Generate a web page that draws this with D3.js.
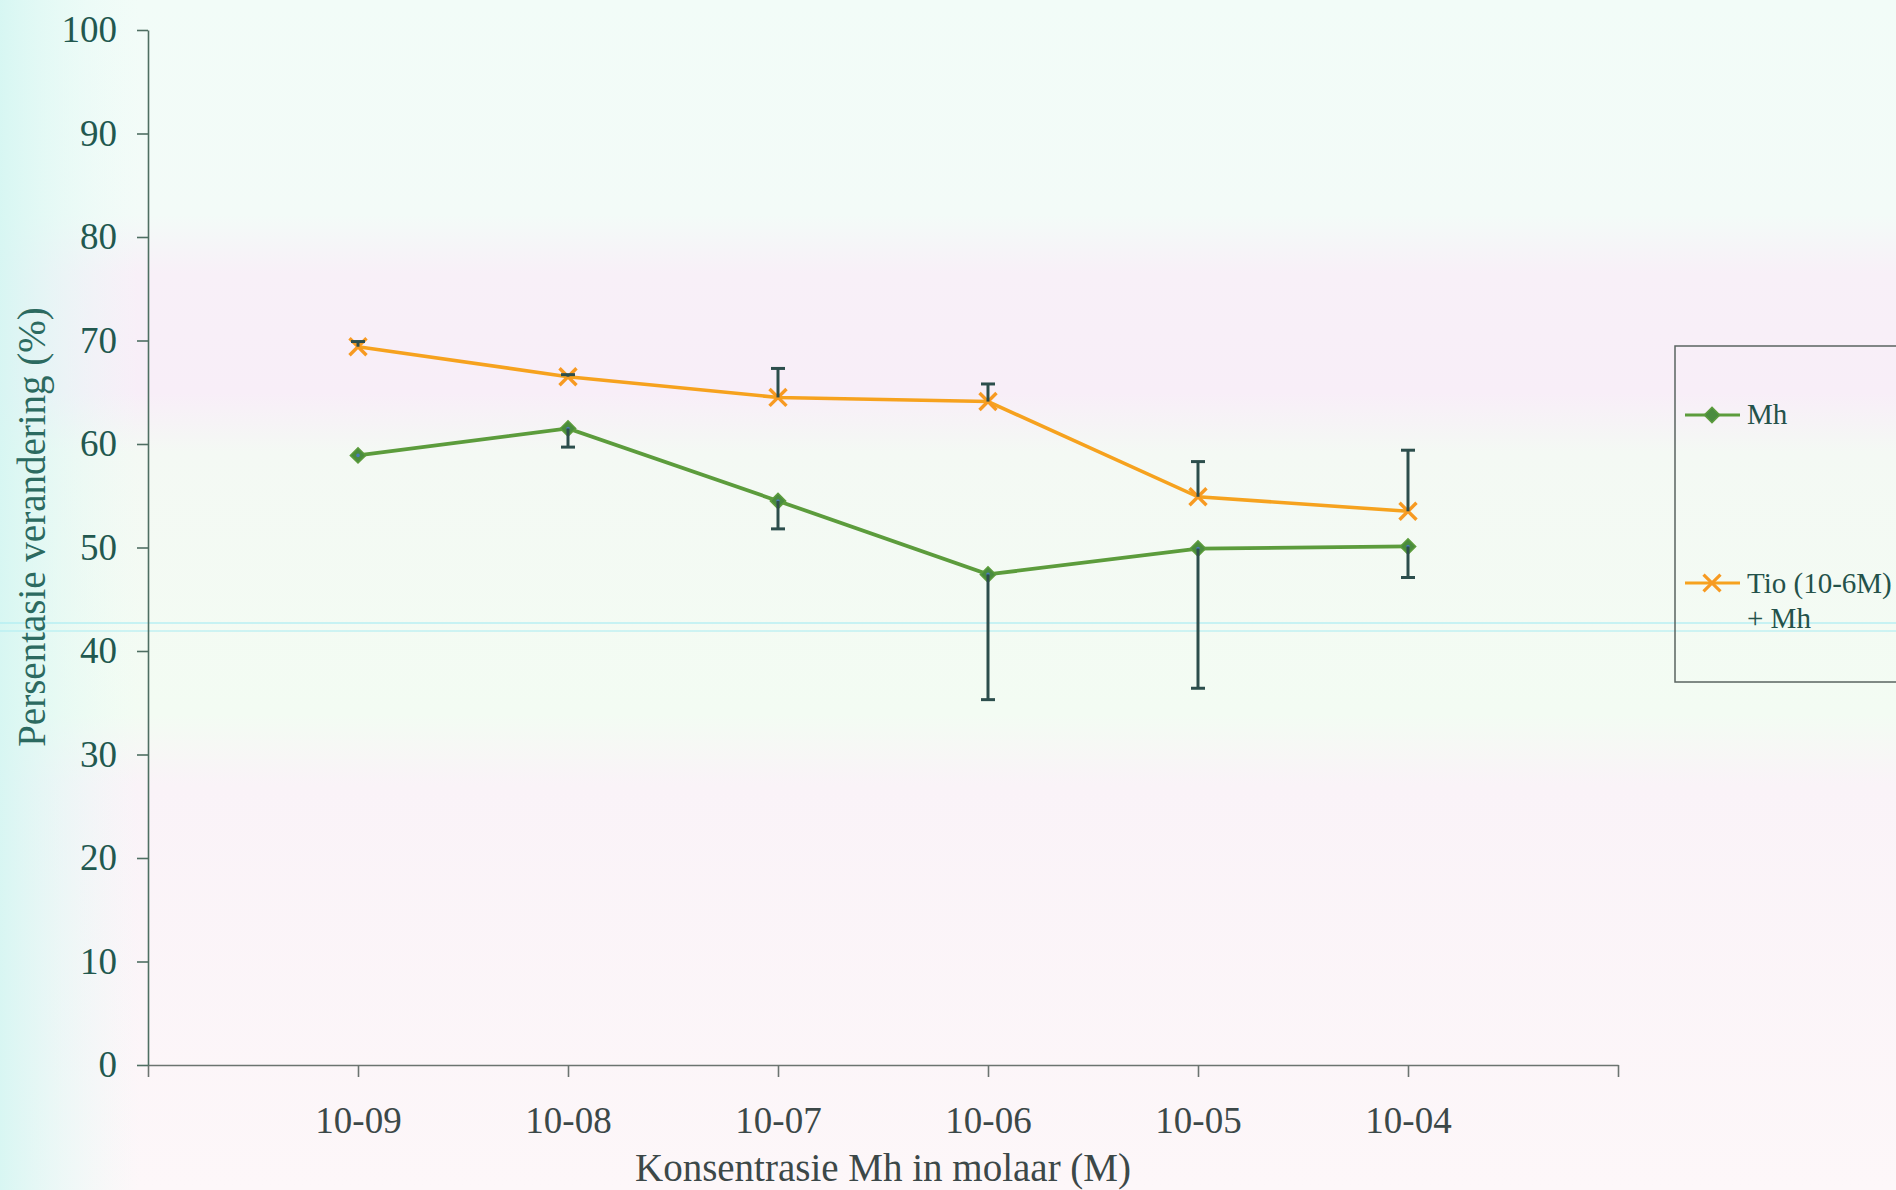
<!DOCTYPE html>
<html>
<head>
<meta charset="utf-8">
<script src="https://cdn.jsdelivr.net/npm/d3@7"></script>
<style>
  body { margin: 0; background: #f4fbf6; }
  svg { display: block; }
  text { font-family: "Liberation Serif", "Times New Roman", serif; }
</style>
</head>
<body>
<div id="chart"></div>
<script>
// data
var categories = ["10-09", "10-08", "10-07", "10-06", "10-05", "10-04"];
var mhValues = [58.9, 61.5, 54.5, 47.4, 49.9, 50.1];
var mhErrMinus = [0, 1.8, 2.7, 12.1, 13.5, 3.0];
var tioValues = [69.4, 66.5, 64.5, 64.1, 54.9, 53.5];
var tioErrPlus = [0.5, 0.2, 2.8, 1.7, 3.4, 5.9];
var yTicks = [0, 10, 20, 30, 40, 50, 60, 70, 80, 90, 100];

var width = 1896, height = 1190;
var green = "#5c9c3c", orange = "#f6a21e", errColor = "#2c4e4c";

var svg = d3.select("#chart").append("svg")
    .attr("width", width)
    .attr("height", height);

// scanned paper background
var defs = svg.append("defs");
var bg = defs.append("linearGradient").attr("id", "bg")
    .attr("x1", 0).attr("y1", 0).attr("x2", 0).attr("y2", 1);
[[0, "#f2fcf8"], [0.18, "#f3fbf8"], [0.23, "#f8f0f8"], [0.33, "#f8eef8"], [0.38, "#f4f9f4"],
 [0.6, "#f3fcf3"], [0.66, "#faf3f8"], [1, "#fdf7f9"]].forEach(function(s){
    bg.append("stop").attr("offset", s[0]).attr("stop-color", s[1]);
});
var side = defs.append("linearGradient").attr("id", "side")
    .attr("x1", 0).attr("y1", 0).attr("x2", 1).attr("y2", 0);
side.append("stop").attr("offset", 0).attr("stop-color", "#d4f6f2").attr("stop-opacity", 0.9);
side.append("stop").attr("offset", 1).attr("stop-color", "#e8fbf6").attr("stop-opacity", 0);

svg.append("rect").attr("width", width).attr("height", height).attr("fill", "url(#bg)");
svg.append("rect").attr("width", 140).attr("height", height).attr("fill", "url(#side)");
svg.append("rect").attr("x", 0).attr("y", 622).attr("width", width).attr("height", 2).attr("fill", "#b4eef2").attr("opacity", 0.7);
svg.append("rect").attr("x", 0).attr("y", 630).attr("width", width).attr("height", 2).attr("fill", "#b4eef2").attr("opacity", 0.6);

var x = d3.scaleLinear().domain([0, 7]).range([148, 1618]);
var y = d3.scaleLinear().domain([0, 100]).range([1065, 30]);

// axes
var xAxis = d3.axisBottom(x)
    .tickValues(d3.range(0, 8))
    .tickSize(12)
    .tickSizeOuter(0)
    .tickPadding(30)
    .tickFormat(function(d){ return categories[d - 1] || ""; });
var yAxis = d3.axisLeft(y)
    .tickValues(yTicks)
    .tickSize(11)
    .tickSizeOuter(0)
    .tickPadding(20);

var gx = svg.append("g")
    .attr("transform", "translate(0," + y(0) + ")")
    .call(xAxis);
gx.selectAll("text").attr("font-size", 37).attr("fill", "#3c4848").attr("font-family", "Liberation Serif, serif");
gx.selectAll("line, path").attr("stroke", "#6b7470").attr("stroke-width", 1.6);

var gy = svg.append("g")
    .attr("transform", "translate(" + x(0) + ",0)")
    .call(yAxis);
gy.selectAll("text").attr("font-size", 37).attr("fill", "#22584f").attr("font-family", "Liberation Serif, serif");
gy.selectAll("line, path").attr("stroke", "#4e6e62").attr("stroke-width", 1.6);

// axis titles
svg.append("text")
    .attr("transform", "translate(45," + 527 + ") rotate(-90)")
    .attr("text-anchor", "middle")
    .attr("font-size", 39)
    .attr("fill", "#2c6a60")
    .text("Persentasie verandering (%)");
svg.append("text")
    .attr("x", (x(0) + x(7)) / 2)
    .attr("y", 1181)
    .attr("text-anchor", "middle")
    .attr("font-size", 39)
    .attr("fill", "#3c4848")
    .text("Konsentrasie Mh in molaar (M)");

var line = d3.line()
    .x(function(d, i){ return x(i + 1); })
    .y(function(d){ return y(d); });

svg.append("path").datum(tioValues)
    .attr("d", line).attr("fill", "none")
    .attr("stroke", orange).attr("stroke-width", 3.6);
svg.append("path").datum(mhValues)
    .attr("d", line).attr("fill", "none")
    .attr("stroke", green).attr("stroke-width", 3.8);

// markers
var diamond = d3.symbol().type(d3.symbolDiamond2).size(150);
svg.selectAll(".mh").data(mhValues).enter().append("path")
    .attr("class", "mh")
    .attr("d", diamond)
    .attr("transform", function(d, i){ return "translate(" + x(i + 1) + "," + y(d) + ")"; })
    .attr("fill", "#4a8c3e").attr("stroke", green).attr("stroke-width", 1.5);
svg.selectAll(".mhdot").data(mhValues).enter().append("circle")
    .attr("class", "mhdot")
    .attr("cx", function(d, i){ return x(i + 1); })
    .attr("cy", function(d){ return y(d); })
    .attr("r", 1.8).attr("fill", "#4a7ab8");

var cross = d3.symbol().type(d3.symbolX).size(190);
svg.selectAll(".tio").data(tioValues).enter().append("path")
    .attr("class", "tio")
    .attr("d", cross)
    .attr("transform", function(d, i){ return "translate(" + x(i + 1) + "," + y(d) + ")"; })
    .attr("fill", "none").attr("stroke", "#f79a22").attr("stroke-width", 3.4);

// error bars: minus for Mh, plus for Tio
function errorBars(vals, errs, sign){
    var g = svg.append("g").attr("stroke", errColor).attr("stroke-width", 3);
    vals.forEach(function(v, i){
        if (!errs[i]) return;
        var cx = x(i + 1), y1 = y(v), y2 = y(v + sign * errs[i]);
        g.append("line").attr("x1", cx).attr("x2", cx).attr("y1", y1).attr("y2", y2);
        g.append("line").attr("x1", cx - 7).attr("x2", cx + 7).attr("y1", y2).attr("y2", y2);
    });
}
errorBars(mhValues, mhErrMinus, -1);
errorBars(tioValues, tioErrPlus, 1);

// legend
var lg = svg.append("g");
lg.append("rect").attr("x", 1675).attr("y", 346).attr("width", 300).attr("height", 336)
    .attr("fill", "none").attr("stroke", "#5a6460").attr("stroke-width", 1.5);
lg.append("line").attr("x1", 1685).attr("x2", 1740).attr("y1", 415).attr("y2", 415)
    .attr("stroke", green).attr("stroke-width", 3);
lg.append("path").attr("d", diamond).attr("transform", "translate(1712,415)")
    .attr("fill", "#4a8c3e").attr("stroke", green).attr("stroke-width", 1.5);
lg.append("text").attr("x", 1747).attr("y", 424).attr("font-size", 29).attr("fill", "#24524a").text("Mh");
lg.append("line").attr("x1", 1685).attr("x2", 1740).attr("y1", 583).attr("y2", 583)
    .attr("stroke", orange).attr("stroke-width", 3);
lg.append("path").attr("d", cross).attr("transform", "translate(1712,583)")
    .attr("fill", "none").attr("stroke", "#f79a22").attr("stroke-width", 3.2);
lg.append("text").attr("x", 1747).attr("y", 593).attr("font-size", 29).attr("fill", "#24524a").text("Tio (10-6M)");
lg.append("text").attr("x", 1747).attr("y", 628).attr("font-size", 29).attr("fill", "#24524a").text("+ Mh");
</script>
</body>
</html>
